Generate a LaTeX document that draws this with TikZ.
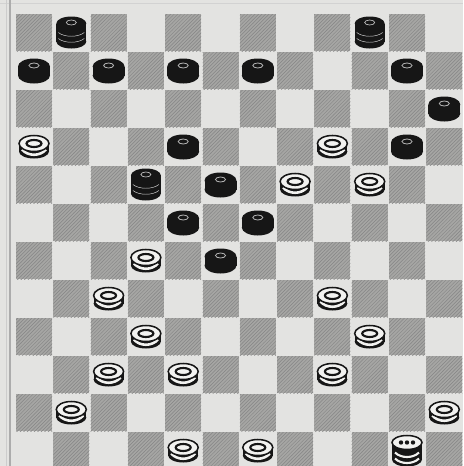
\documentclass[tikz,border=0pt]{standalone}
\usetikzlibrary{patterns}
\definecolor{paper}{HTML}{E3E3E1}
\definecolor{sqGray}{HTML}{A6A6A4}
\definecolor{ink}{HTML}{161616}
\definecolor{rim}{HTML}{F2F2F0}

\tikzset{
  darksq/.style={fill=sqGray, postaction={pattern=north east lines, pattern color=black!48}},
  % plain black man
  blackman/.pic={
    \fill[ink] (-16,-4) rectangle (16,5);
    \fill[ink] (0,5) ellipse [x radius=16, y radius=8];
    \fill[ink] (0,-4) ellipse [x radius=16, y radius=8];
    \draw[gray!60, line width=0.7pt] (0,-5) ellipse [x radius=5, y radius=2.5];
  },
  % crowned black man
  blackking/.pic={
    \fill[ink] (-15,-9) rectangle (15,9);
    \fill[ink] (0,9) ellipse [x radius=15, y radius=7];
    \fill[ink] (0,-9) ellipse [x radius=15, y radius=7];
    \draw[gray!35, line width=0.4pt] (-13,0) .. controls (-7,5) and (7,5) .. (13,0);
    \draw[gray!35, line width=0.4pt] (-13,6) .. controls (-7,11) and (7,11) .. (13,6);
    \draw[gray!55, line width=0.6pt] (0,-10) ellipse [x radius=5, y radius=2.5];
  },
  % plain white man
  whiteman/.pic={
    \fill[ink] (-15,-3) rectangle (15,5);
    \fill[ink] (0,5) ellipse [x radius=15, y radius=7];
    \draw[rim, line width=2.2pt] (-12,3) .. controls (-6,10) and (6,10) .. (12,3);
    \fill[rim] (0,-3) ellipse [x radius=15, y radius=8];
    \draw[ink, line width=1.3pt] (0,-3) ellipse [x radius=15, y radius=8];
    \draw[ink, line width=1.8pt] (0,-3) ellipse [x radius=7.5, y radius=3.5];
  },
  % crowned white man
  whiteking/.pic={
    \fill[ink] (-15,-8) rectangle (15,9);
    \fill[ink] (0,9) ellipse [x radius=15, y radius=7];
    \draw[rim, line width=1.8pt] (-12,2) .. controls (-6,8) and (6,8) .. (12,2);
    \draw[rim, line width=1.8pt] (-12,8) .. controls (-6,14) and (6,14) .. (12,8);
    \fill[rim] (0,-8) ellipse [x radius=15, y radius=7];
    \draw[ink, line width=1.3pt] (0,-8) ellipse [x radius=15, y radius=7];
    \foreach \dx in {-6,0,6}
      \fill[ink] (\dx,-8) circle [radius=2.2];
  }
}

\begin{document}
\begin{tikzpicture}[x=0.03cm, y=-0.03cm]
\useasboundingbox (0,0) rectangle (463,466);
\fill[paper] (0,0) rectangle (463,466);
\clip (0,0) rectangle (463,466);

% frame lines
\draw[gray!35, line width=0.7pt] (0,3) -- (463,3);
\draw[gray!40, line width=0.6pt] (6,0) -- (6,466);
\draw[gray!65, line width=1.2pt] (10,0) -- (10,466);

% board squares
\foreach \r in {1,...,12}
  \foreach \c in {1,...,12} {
    \pgfmathtruncatemacro\odd{mod(\r+\c,2)}
    \ifnum\odd=0
      \path[darksq] ({16+(\c-1)*37.3},{14+(\r-1)*38}) rectangle +(36,37);
    \fi
  }

% black pieces
\foreach \c/\r in {1/2,3/2,5/2,7/2,11/2,12/3,5/4,11/4,6/5,5/6,7/6,6/7}
  \pic at ({34+(\c-1)*37.3},{32.5+(\r-1)*38}) {blackman};
\foreach \c/\r in {2/1,10/1,4/5}
  \pic at ({34+(\c-1)*37.3},{32.5+(\r-1)*38}) {blackking};

% white pieces
\foreach \c/\r in {1/4,9/4,8/5,10/5,4/7,3/8,9/8,4/9,10/9,3/10,5/10,9/10,2/11,12/11,5/12,7/12}
  \pic at ({34+(\c-1)*37.3},{32.5+(\r-1)*38}) {whiteman};
\foreach \c/\r in {11/12}
  \pic at ({34+(\c-1)*37.3},{32.5+(\r-1)*38}) {whiteking};
\end{tikzpicture}
\end{document}
